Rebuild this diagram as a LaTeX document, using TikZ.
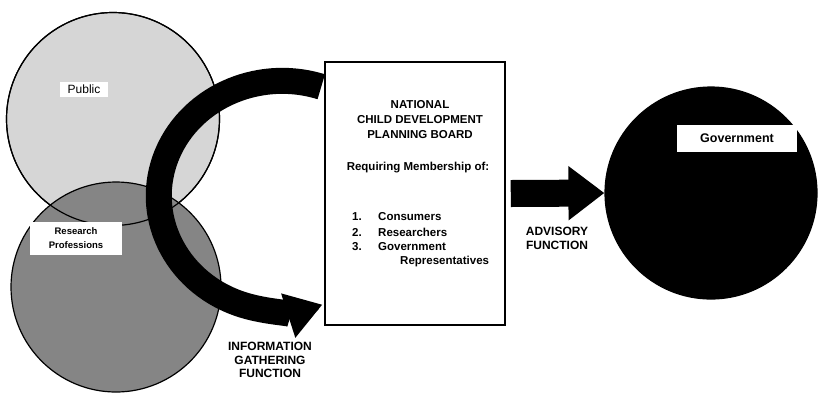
\documentclass[tikz,border=0pt]{standalone}
\usepackage{fontspec}
\setmainfont{Liberation Sans}
\usetikzlibrary{arrows.meta}
\usetikzlibrary{positioning}

\begin{document}
\begin{tikzpicture}[x=1pt,y=-1pt]
  \tikzset{group/.style = {shape=circle,draw,line width=1.2pt,inner sep=0pt}}
  \tikzset{tag/.style = {shape=rectangle,fill=white,inner sep=0pt,align=center}}
  \tikzset{caption/.style = {align=center,font=\fontsize{12}{13.8}\selectfont\bfseries}}
  \tikzset{boardtext/.style = {inner sep=0pt,font=\fontsize{11.5}{15}\selectfont\bfseries}}
  \tikzset{flow/.style = {line width=26pt,-{Triangle[length=36pt,width=44pt]}}}
  \tikzset{advice/.style = {line width=27pt,-{Triangle[length=36pt,width=52pt]}}}

  \useasboundingbox (0,0) rectangle (818,392);

  \node[group, fill=black!16, minimum size=213pt] (public) at (113,119) {};
  \node[group, fill=black!48, minimum size=210pt] (research) at (116,287) {};
  \node[group, minimum size=213pt] (publicrim) at (113,119) {};

  \node[tag, font=\fontsize{12}{14}\selectfont, minimum width=48pt, minimum height=15pt] (publictag) at (84,89) {Public};
  \node[tag, font=\fontsize{9.5}{14}\selectfont\bfseries, minimum width=92pt, minimum height=33pt] (researchtag) at (76,238.5) {Research\\Professions};

  \node[draw, line width=1.5pt, minimum width=180pt, minimum height=263pt] (board) at (415,193.5) {};

  \node[boardtext, align=center] (title) at (420,120) {NATIONAL\\CHILD DEVELOPMENT\\PLANNING BOARD};
  \node[boardtext] (members) at (418,168) {Requiring Membership of:};
  \node[boardtext, anchor=west] (num1) at (352,217) {1.};
  \node[boardtext, anchor=west] (num2) at (352,232) {2.};
  \node[boardtext, anchor=west] (num3) at (352,247) {3.};
  \node[boardtext, anchor=west] (item1) at (378,217) {Consumers};
  \node[boardtext, anchor=west] (item2) at (378,232) {Researchers};
  \node[boardtext, anchor=west] (item3) at (378,247) {Government};
  \node[boardtext, anchor=west] (item4) at (400,262) {Representatives};

  \coordinate (gatherstart) at ([xshift=-3pt,yshift=-25.5pt]board.north west);
  \draw[flow] (gatherstart) arc[start angle=71.6, end angle=289, x radius=123.5pt, y radius=115pt];

  \node[group, fill=black, minimum size=212pt] (gov) at (711,193) {};
  \node[tag, font=\fontsize{12.5}{14}\selectfont\bfseries, minimum width=120pt, minimum height=27pt] (govtag) at (737,138.5) {Government};

  \draw[advice] ([xshift=5pt]board.east) to (gov.west);

  \node[caption] (advlabel) at (557,238.5) {ADVISORY\\FUNCTION};
  \node[caption] (gatherlabel) at (270,360) {INFORMATION\\GATHERING\\FUNCTION};
\end{tikzpicture}
\end{document}
